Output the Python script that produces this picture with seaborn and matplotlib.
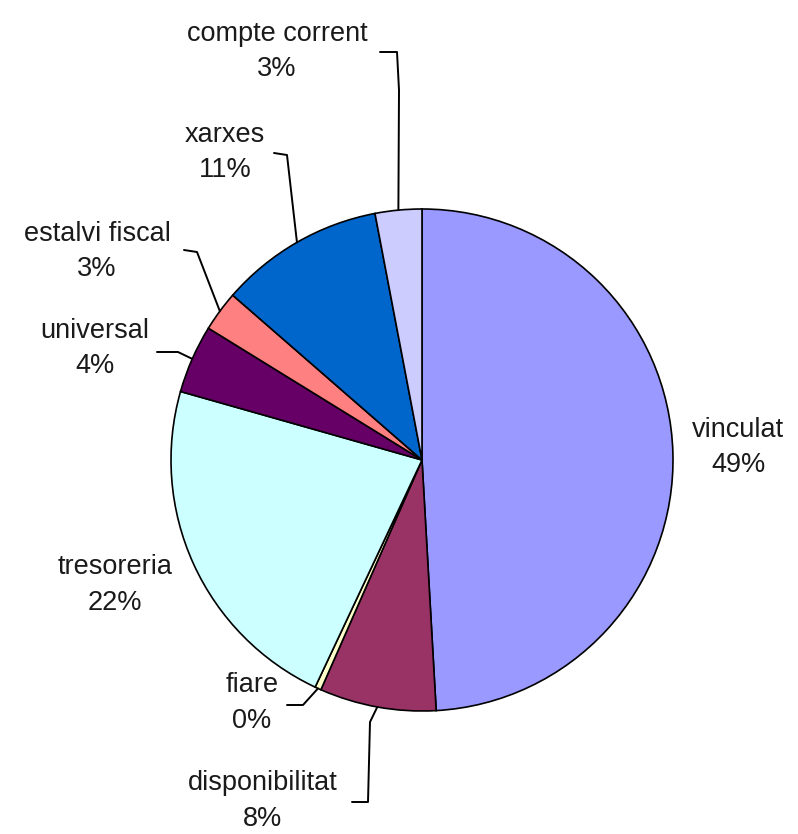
import numpy as np
import matplotlib
matplotlib.use('Agg')
import matplotlib.pyplot as plt
import seaborn as sns

# data (clockwise from top)
names = ['vinculat', 'disponibilitat', 'fiare', 'tresoreria',
         'universal', 'estalvi fiscal', 'xarxes', 'compte corrent']
values = [49.1, 7.5, 0.4, 22.4, 4.4, 2.6, 10.6, 3.0]
colors = ['#9999FF', '#993366', '#FFFFCC', '#CCFFFF',
          '#660066', '#FF8080', '#0066CC', '#CCCCFF']

W, H = 798, 834
cx, cy, R = 422, 460, 251  # pie centre / radius in pixels

# label block centres and leader-line elbows (pixels, y down)
label_pos = {
    'vinculat': (738, 447),
    'disponibilitat': (263, 801),
    'fiare': (252, 703),
    'tresoreria': (115, 585),
    'universal': (95, 348),
    'estalvi fiscal': (97, 251),
    'xarxes': (225, 152),
    'compte corrent': (277, 51),
}
leaders = {
    'compte corrent': [(380, 52), (397, 52), (399, 90)],
    'xarxes': [(274, 153), (287, 155)],
    'estalvi fiscal': [(184, 250), (197, 252)],
    'universal': [(157, 352), (178, 352)],
    'fiare': [(287, 705), (303, 705)],
    'disponibilitat': [(352, 802), (368, 802), (370, 722)],
}

sns.set_theme(style='white')
plt.rcParams['font.family'] = ['Liberation Sans', 'DejaVu Sans']

fig = plt.figure(figsize=(W / 100, H / 100), dpi=100)
ax = fig.add_axes([0, 0, 1, 1])


def pix(p):
    return p[0], H - p[1]


wedges, _ = ax.pie(values, colors=colors, startangle=90, counterclock=False,
                   center=pix((cx, cy)), radius=R, frame=True,
                   wedgeprops={'edgecolor': 'black', 'linewidth': 1.2})
ax.set_xlim(0, W)
ax.set_ylim(0, H)
ax.axis('off')

total = sum(values)
for name, v, w in zip(names, values, wedges):
    x, y = pix(label_pos[name])
    ax.text(x, y, f'{name}\n{v / total * 100:.0f}%', ha='center', va='center',
            fontsize=19.5, color='#1a1a1a', linespacing=1.45)
    if name in leaders:
        mid = np.deg2rad((w.theta1 + w.theta2) / 2)
        ex = w.center[0] + R * np.cos(mid)
        ey = w.center[1] + R * np.sin(mid)
        pts = [pix(p) for p in leaders[name]] + [(ex, ey)]
        xs, ys = zip(*pts)
        ax.plot(xs, ys, color='black', lw=1.4)

fig.savefig('out.png', dpi=100)
